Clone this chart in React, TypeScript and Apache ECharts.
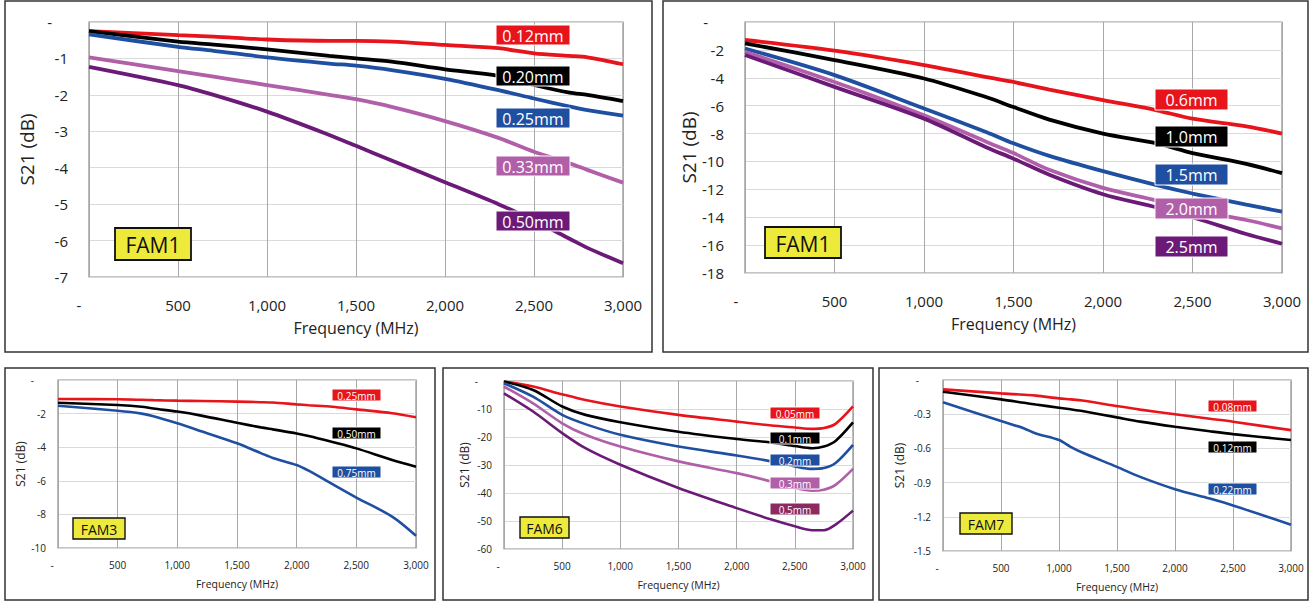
import React, { useEffect, useRef } from "react";
import * as echarts from "echarts";

const FONT = "'Open Sans', 'Noto Sans', sans-serif";

// ---------- data ----------
const fam1aFreq = [0, 500, 700, 1000, 1350, 1500, 1700, 2000, 2300, 2500, 2700, 2800, 3000];
const fam1a_012 = [-0.25, -0.36, -0.4, -0.48, -0.52, -0.52, -0.54, -0.63, -0.72, -0.86, -0.93, -0.97, -1.16];
const fam1a_020 = [-0.25, -0.54, -0.62, -0.75, -0.93, -1.0, -1.09, -1.3, -1.48, -1.73, -1.94, -2.0, -2.17];
const fam1a_025 = [-0.34, -0.68, -0.79, -0.97, -1.14, -1.2, -1.32, -1.56, -1.87, -2.1, -2.32, -2.42, -2.57];
const fam1a_033 = [-0.97, -1.35, -1.5, -1.73, -2.0, -2.12, -2.33, -2.72, -3.18, -3.56, -3.88, -4.06, -4.41];
const fam1a_050 = [-1.23, -1.73, -2.0, -2.46, -3.1, -3.4, -3.8, -4.4, -5.0, -5.45, -5.95, -6.2, -6.62];

const fam1bFreq = [0, 500, 1000, 1350, 1500, 1700, 2000, 2300, 2500, 2800, 3000];
const fam1b_06 = [-1.29, -2.06, -3.09, -3.95, -4.3, -4.85, -5.6, -6.33, -6.93, -7.48, -8.0];
const fam1b_10 = [-1.53, -2.73, -4.05, -5.4, -6.1, -7.0, -8.0, -8.7, -9.4, -10.17, -10.84];
const fam1b_15 = [-1.9, -3.81, -6.2, -7.9, -8.7, -9.6, -10.7, -11.7, -12.3, -13.1, -13.6];
const fam1b_20 = [-2.14, -4.3, -6.69, -8.6, -9.4, -10.6, -11.9, -12.8, -13.5, -14.2, -14.8];
const fam1b_25 = [-2.37, -4.65, -6.93, -9.0, -9.8, -10.95, -12.35, -13.3, -14.0, -15.2, -15.9];

const fam3Freq = [0, 500, 700, 800, 1000, 1200, 1500, 1700, 1800, 2000, 2100, 2300, 2500, 2800, 3000];
const fam3_025 = [-1.13, -1.15, -1.18, -1.2, -1.23, -1.25, -1.29, -1.32, -1.34, -1.45, -1.5, -1.59, -1.75, -1.98, -2.22];
const fam3_050 = [-1.35, -1.49, -1.59, -1.7, -1.88, -2.12, -2.55, -2.82, -2.94, -3.18, -3.33, -3.69, -4.07, -4.76, -5.16];
const fam3_075 = [-1.53, -1.83, -2.0, -2.16, -2.58, -3.05, -3.77, -4.35, -4.64, -5.06, -5.4, -6.2, -7.0, -8.13, -9.27];

const fam6Freq = [0, 250, 500, 700, 1000, 1500, 2000, 2300, 2500, 2650, 2750, 2850, 3000];
const fam6_005 = [-0.2, -2, -4.75, -6.8, -9.1, -12.1, -14.5, -15.9, -16.6, -17.1, -16.8, -15.3, -9.1];
const fam6_01 = [-0.2, -3.2, -9.1, -12.1, -14.7, -18.1, -20.7, -22, -23.2, -24, -23.4, -21.4, -14.8];
const fam6_02 = [-0.8, -5.6, -12.1, -15.4, -19.2, -23.4, -26.6, -28.7, -30.5, -31.4, -31.1, -29.3, -22.8];
const fam6_03 = [-2, -8, -15.1, -19.2, -23.4, -28.7, -32.9, -35.9, -38.2, -39.2, -38.8, -37.1, -31.4];
const fam6_05 = [-4.4, -10.9, -18.6, -24, -29.9, -38.2, -45.4, -49.5, -51.9, -53.3, -53.3, -51.3, -46.3];

const fam7Freq = [0, 500, 700, 800, 1000, 1100, 1200, 1500, 1700, 2000, 2300, 2500, 3000];
const fam7_008 = [-0.082, -0.117, -0.13, -0.137, -0.161, -0.17, -0.18, -0.229, -0.26, -0.3, -0.34, -0.366, -0.44];
const fam7_012 = [-0.103, -0.17, -0.2, -0.215, -0.243, -0.257, -0.272, -0.328, -0.365, -0.41, -0.45, -0.475, -0.527];
const fam7_022 = [-0.196, -0.36, -0.425, -0.469, -0.527, -0.586, -0.636, -0.762, -0.85, -0.958, -1.04, -1.1, -1.27];

const fam1aNames = ["0.12mm", "0.20mm", "0.25mm", "0.33mm", "0.50mm"];
const fam1bNames = ["0.6mm", "1.0mm", "1.5mm", "2.0mm", "2.5mm"];
const fam3Names = ["0.25mm", "0.50mm", "0.75mm"];
const fam6Names = ["0.05mm", "0.1mm", "0.2mm", "0.3mm", "0.5mm"];
const fam7Names = ["0.08mm", "0.12mm", "0.22mm"];

// ---------- styling / layout ----------
const RED = "#E8141B";
const BLACK = "#000000";
const BLUE = "#1F4FA0";
const PINK = "#B15FA9";
const PURPLE = "#6B1B77";
const MAROON = "#8C2A61";
const C5 = [RED, BLACK, BLUE, PINK, PURPLE];
const C3 = [RED, BLACK, BLUE];

type ChartCfg = {
  title: string;
  freq: number[];
  series: number[][];
  names: string[];
  lineColors: string[];
  boxColors: string[];
  grid: { left: number; top: number; width: number; height: number };
  yMin: number;
  yInterval: number;
  decimals: number;
  big: boolean;
  yNameGap: number;
  yZeroPad: number;
  xZeroPad: number;
  boxes: { x: number; y: number; w: number; h: number }[];
  fam: { x: number; y: number; w: number; h: number };
};

const boxCol = (x: number, w: number, h: number, ys: number[]) => ys.map((y) => ({ x, y, w, h }));

const charts: ChartCfg[] = [
  {
    title: "FAM1", freq: fam1aFreq, series: [fam1a_012, fam1a_020, fam1a_025, fam1a_033, fam1a_050],
    names: fam1aNames, lineColors: C5, boxColors: C5,
    grid: { left: 89, top: 22, width: 534, height: 255 }, yMin: -7, yInterval: 1, decimals: 0, big: true,
    yNameGap: 53, yZeroPad: 16, xZeroPad: 20,
    boxes: boxCol(496, 74, 20, [25, 66, 108, 156, 211]), fam: { x: 115, y: 228, w: 76, h: 32 },
  },
  {
    title: "FAM1", freq: fam1bFreq, series: [fam1b_06, fam1b_10, fam1b_15, fam1b_20, fam1b_25],
    names: fam1bNames, lineColors: C5, boxColors: C5,
    grid: { left: 745, top: 22, width: 537, height: 251 }, yMin: -18, yInterval: 2, decimals: 0, big: true,
    yNameGap: 47, yZeroPad: 16, xZeroPad: 18,
    boxes: boxCol(1155, 73, 21, [89, 126, 164, 198, 236]), fam: { x: 765, y: 227, w: 76, h: 31 },
  },
  {
    title: "FAM3", freq: fam3Freq, series: [fam3_025, fam3_050, fam3_075],
    names: fam3Names, lineColors: C3, boxColors: C3,
    grid: { left: 58, top: 380, width: 358, height: 168 }, yMin: -10, yInterval: 2, decimals: 0, big: false,
    yNameGap: 29, yZeroPad: 12, xZeroPad: 12,
    boxes: boxCol(332, 49, 12, [389, 427, 466]), fam: { x: 73, y: 518, w: 52, h: 21 },
  },
  {
    title: "FAM6", freq: fam6Freq, series: [fam6_005, fam6_01, fam6_02, fam6_03, fam6_05],
    names: fam6Names, lineColors: C5, boxColors: [RED, BLACK, BLUE, PINK, MAROON],
    grid: { left: 504, top: 381, width: 349, height: 168 }, yMin: -60, yInterval: 10, decimals: 0, big: false,
    yNameGap: 34, yZeroPad: 14, xZeroPad: 12,
    boxes: boxCol(770, 50, 12, [407, 432, 454, 477, 503]), fam: { x: 520, y: 517, w: 49, h: 21 },
  },
  {
    title: "FAM7", freq: fam7Freq, series: [fam7_008, fam7_012, fam7_022],
    names: fam7Names, lineColors: C3, boxColors: C3,
    grid: { left: 943, top: 380, width: 348, height: 171 }, yMin: -1.5, yInterval: 0.3, decimals: 1, big: false,
    yNameGap: 38, yZeroPad: 12, xZeroPad: 12,
    boxes: boxCol(1208, 49, 12, [400, 441, 483]), fam: { x: 960, y: 513, w: 52, h: 21 },
  },
];

const panels = [
  { x: 5, y: 1, w: 647, h: 351 },
  { x: 663, y: 1, w: 645, h: 351 },
  { x: 5, y: 368, w: 430, h: 232 },
  { x: 443, y: 368, w: 430, h: 232 },
  { x: 879, y: 368, w: 429, h: 232 },
];

function buildOption() {
  const grid: any[] = [];
  const xAxis: any[] = [];
  const yAxis: any[] = [];
  const series: any[] = [];
  const graphic: any[] = [];

  panels.forEach((p) => {
    graphic.push({
      type: "rect", z: 1, silent: true,
      shape: { x: p.x, y: p.y, width: p.w, height: p.h },
      style: { fill: "none", stroke: "#333", lineWidth: 1.5 },
    });
  });

  charts.forEach((c, gi) => {
    const tickFs = c.big ? 15 : 10;
    const nameFs = c.big ? 16 : 10.5;
    const yNameFs = c.big ? 19 : 12;
    grid.push({
      left: c.grid.left, top: c.grid.top, width: c.grid.width, height: c.grid.height,
      show: true, borderColor: "#8c8c8c", borderWidth: 1.2, backgroundColor: "#fff",
    });
    xAxis.push({
      type: "value", gridIndex: gi, min: 0, max: 3000, interval: 500,
      name: "Frequency (MHz)", nameLocation: "middle", nameGap: c.big ? 43 : 30,
      nameTextStyle: { fontSize: nameFs, color: "#222", fontFamily: FONT },
      axisLine: { show: false }, axisTick: { show: false },
      axisLabel: {
        margin: c.big ? 20 : 12, fontSize: tickFs, color: "#222", fontFamily: FONT,
        formatter: (v: number) => (v === 0 ? "{z|-}" : v.toLocaleString("en-US")),
        rich: { z: { padding: [0, c.xZeroPad, 0, 0], fontSize: tickFs, color: "#222", fontFamily: FONT } },
      },
      splitLine: { show: true, lineStyle: { color: "#a8a8a8", width: 1 } },
    });
    yAxis.push({
      type: "value", gridIndex: gi, min: c.yMin, max: 0, interval: c.yInterval,
      name: "S21 (dB)", nameLocation: "middle", nameGap: c.yNameGap,
      nameTextStyle: { fontSize: yNameFs, color: "#222", fontFamily: FONT },
      axisLine: { show: false }, axisTick: { show: false },
      axisLabel: {
        margin: c.big ? 21 : 12, fontSize: tickFs, color: "#222", fontFamily: FONT,
        formatter: (v: number) => (Math.abs(v) < 1e-9 ? "{z|-}" : v.toFixed(c.decimals)),
        rich: { z: { padding: [0, c.yZeroPad, 0, 0], fontSize: tickFs, color: "#222", fontFamily: FONT } },
      },
      splitLine: { show: true, lineStyle: { color: "#dadada", width: 1 } },
    });
    c.series.forEach((vals, si) => {
      series.push({
        type: "line", name: c.title + " " + c.names[si], xAxisIndex: gi, yAxisIndex: gi,
        data: c.freq.map((f, i) => [f, vals[i]]),
        showSymbol: false, symbol: "none", smooth: 0.3,
        lineStyle: { color: c.lineColors[si], width: c.big ? 3.8 : 2.6 },
        itemStyle: { color: c.lineColors[si] },
        z: 3,
      });
    });
    // label boxes
    c.boxes.forEach((b, bi) => {
      graphic.push({
        type: "rect", z: 50, silent: true,
        shape: { x: b.x, y: b.y, width: b.w, height: b.h },
        style: { fill: c.boxColors[bi], stroke: "#ffffff", lineWidth: 1 },
      });
      graphic.push({
        type: "text", z: 51, silent: true,
        x: b.x + b.w / 2, y: b.y + b.h / 2 + 0.5,
        style: {
          text: c.names[bi], align: "center", verticalAlign: "middle",
          fill: "#ffffff", fontSize: c.big ? 16 : 10, fontFamily: FONT,
        },
      });
    });
    // FAM box
    graphic.push({
      type: "rect", z: 50, silent: true,
      shape: { x: c.fam.x, y: c.fam.y, width: c.fam.w, height: c.fam.h },
      style: { fill: "#EEEA3B", stroke: "#111", lineWidth: c.big ? 1.8 : 1.4 },
    });
    graphic.push({
      type: "text", z: 51, silent: true,
      x: c.fam.x + c.fam.w / 2, y: c.fam.y + c.fam.h / 2 + 1,
      style: {
        text: c.title, align: "center", verticalAlign: "middle",
        fill: "#111", fontSize: c.big ? 21 : 14, fontFamily: FONT,
      },
    });
  });

  return {
    animation: false,
    backgroundColor: "#ffffff",
    grid, xAxis, yAxis, series, graphic,
  };
}

export default function App() {
  const ref = useRef<HTMLDivElement>(null);
  useEffect(() => {
    if (!ref.current) return;
    const chart = echarts.init(ref.current, undefined, { renderer: "svg" });
    chart.setOption(buildOption() as any);
    return () => chart.dispose();
  }, []);
  return (
    <div
      ref={ref}
      style={{ position: "fixed", left: 0, top: 0, width: 1309, height: 601, background: "#fff" }}
    />
  );
}
